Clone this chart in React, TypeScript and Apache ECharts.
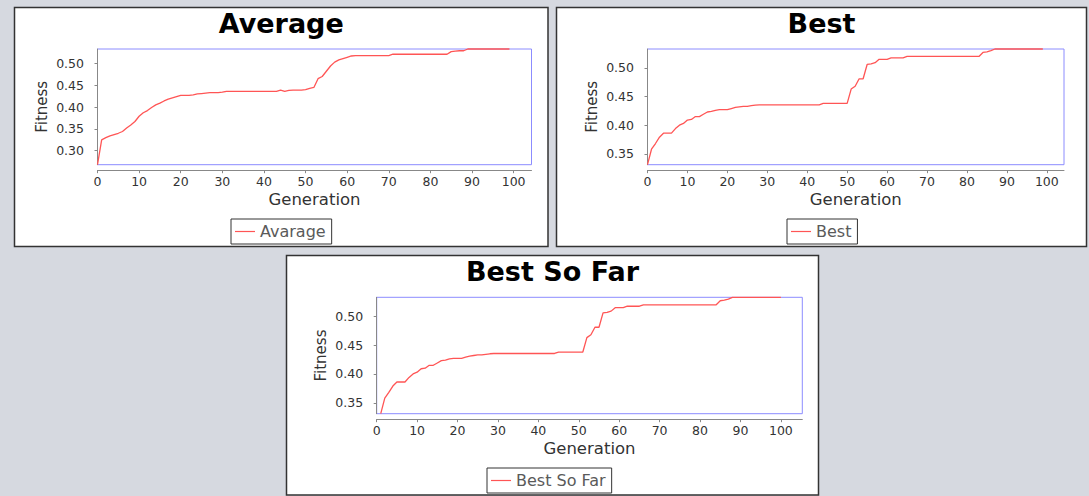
import { useEffect, useRef } from "react";
import * as echarts from "echarts";

// Average fitness, generations 0..99
const averageFitness = [
  0.268, 0.325, 0.330, 0.334, 0.337, 0.340, 0.344, 0.352, 0.359, 0.367,
  0.379, 0.387, 0.392, 0.399, 0.405, 0.409, 0.414, 0.418, 0.421, 0.424,
  0.427, 0.427, 0.427, 0.428, 0.430, 0.431, 0.432, 0.433, 0.433, 0.433,
  0.434, 0.436, 0.436, 0.436, 0.436, 0.436, 0.436, 0.436, 0.436, 0.436,
  0.436, 0.436, 0.436, 0.436, 0.439, 0.436, 0.438, 0.439, 0.439, 0.439,
  0.440, 0.443, 0.445, 0.465, 0.470, 0.482, 0.494, 0.503, 0.508, 0.511,
  0.514, 0.517, 0.518, 0.518, 0.518, 0.518, 0.518, 0.518, 0.518, 0.518,
  0.518, 0.521, 0.521, 0.521, 0.521, 0.521, 0.521, 0.521, 0.521, 0.521,
  0.521, 0.521, 0.521, 0.521, 0.521, 0.527, 0.528, 0.529, 0.529, 0.533,
  0.533, 0.533, 0.533, 0.533, 0.533, 0.533, 0.533, 0.533, 0.533, 0.533,
];

// Best fitness of each generation, generations 0..99
const bestFitness = [
  0.331, 0.358, 0.368, 0.379, 0.386, 0.386, 0.386, 0.394, 0.400, 0.403,
  0.409, 0.410, 0.415, 0.415, 0.419, 0.423, 0.424, 0.426, 0.427, 0.427,
  0.427, 0.429, 0.431, 0.432, 0.433, 0.433, 0.434, 0.435, 0.4355, 0.4355,
  0.4355, 0.4355, 0.4355, 0.4355, 0.4355, 0.4355, 0.4355, 0.4355, 0.4355, 0.4355,
  0.4355, 0.4355, 0.4355, 0.4355, 0.438, 0.438, 0.438, 0.438, 0.438, 0.438,
  0.438, 0.463, 0.468, 0.481, 0.481, 0.506, 0.507, 0.509, 0.515, 0.515,
  0.515, 0.5175, 0.5175, 0.5175, 0.5175, 0.520, 0.520, 0.520, 0.520, 0.520,
  0.520, 0.520, 0.520, 0.520, 0.520, 0.520, 0.520, 0.520, 0.520, 0.520,
  0.520, 0.520, 0.520, 0.520, 0.527, 0.528, 0.530, 0.533, 0.533, 0.533,
  0.533, 0.533, 0.533, 0.533, 0.533, 0.533, 0.533, 0.533, 0.533, 0.533,
];

// Best so far, generations 1..100
const bestSoFarFitness = [
  0.331, 0.358, 0.368, 0.379, 0.386, 0.386, 0.386, 0.394, 0.400, 0.403,
  0.409, 0.410, 0.415, 0.415, 0.419, 0.423, 0.424, 0.426, 0.427, 0.427,
  0.427, 0.429, 0.431, 0.432, 0.433, 0.433, 0.434, 0.435, 0.4355, 0.4355,
  0.4355, 0.4355, 0.4355, 0.4355, 0.4355, 0.4355, 0.4355, 0.4355, 0.4355, 0.4355,
  0.4355, 0.4355, 0.4355, 0.4355, 0.438, 0.438, 0.438, 0.438, 0.438, 0.438,
  0.438, 0.463, 0.468, 0.481, 0.481, 0.506, 0.507, 0.509, 0.515, 0.515,
  0.515, 0.5175, 0.5175, 0.5175, 0.5175, 0.520, 0.520, 0.520, 0.520, 0.520,
  0.520, 0.520, 0.520, 0.520, 0.520, 0.520, 0.520, 0.520, 0.520, 0.520,
  0.520, 0.520, 0.520, 0.520, 0.527, 0.528, 0.530, 0.533, 0.533, 0.533,
  0.533, 0.533, 0.533, 0.533, 0.533, 0.533, 0.533, 0.533, 0.533, 0.533,
];

const xTicks = [0, 10, 20, 30, 40, 50, 60, 70, 80, 90, 100];
const yTicksAverage = [0.3, 0.35, 0.4, 0.45, 0.5];
const yTicksBest = [0.35, 0.4, 0.45, 0.5];

const titles = ["Average", "Best", "Best So Far"];
const seriesNames = ["Avarage", "Best", "Best So Far"];

const FONT = "'DejaVu Sans', 'Noto Sans', sans-serif";
const LINE_COLOR = "#ff5555";

export default function App() {
  const ref = useRef<HTMLDivElement>(null);

  useEffect(() => {
    if (!ref.current) return;
    const chart = echarts.init(ref.current, undefined, { renderer: "svg" });

    const panels = [
      {
        box: { x: 14.5, y: 7.5, width: 533.5, height: 239 },
        grid: { left: 97.5, top: 49, width: 434, height: 115.7 },
        xMax: 104.3,
        yMin: 0.268,
        yMax: 0.533,
        yTicks: yTicksAverage,
        data: averageFitness.map((v, i) => [i, v]),
        legendLeft: 231,
        legendTop: 219,
      },
      {
        box: { x: 556.5, y: 7.5, width: 530, height: 239 },
        grid: { left: 647.5, top: 49, width: 416.5, height: 115.7 },
        xMax: 104.3,
        yMin: 0.331,
        yMax: 0.533,
        yTicks: yTicksBest,
        data: bestFitness.map((v, i) => [i, v]),
        legendLeft: 787,
        legendTop: 219,
      },
      {
        box: { x: 286.5, y: 255.5, width: 532, height: 239.5 },
        grid: { left: 376.7, top: 297.3, width: 425.6, height: 116.4 },
        xMax: 105.3,
        yMin: 0.331,
        yMax: 0.533,
        yTicks: yTicksBest,
        data: bestSoFarFitness.map((v, i) => [i + 1, v]),
        legendLeft: 487,
        legendTop: 468,
      },
    ];

    const option: any = {
      animation: false,
      backgroundColor: "#d6d9e0",
      textStyle: { fontFamily: FONT },
      graphic: panels.map((p) => ({
        type: "rect",
        z: -10,
        shape: { ...p.box },
        style: { fill: "#ffffff", stroke: "#333333", lineWidth: 1.5 },
      })),
      title: panels.map((p, i) => ({
        text: titles[i],
        left: p.box.x + p.box.width / 2,
        top: p.box.y + 2,
        padding: 0,
        textAlign: "center",
        textStyle: {
          fontFamily: FONT,
          fontSize: 27,
          fontWeight: "bold",
          color: "#000",
        },
      })),
      legend: panels.map((p, i) => ({
        data: [seriesNames[i]],
        left: p.legendLeft,
        top: p.legendTop,
        orient: "horizontal",
        borderColor: "#333",
        borderWidth: 1,
        padding: [4, 6, 4, 4],
        icon: "rect",
        itemWidth: 20,
        itemHeight: 1.2,
        itemGap: 5,
        selectedMode: false,
        textStyle: { fontFamily: FONT, fontSize: 16, color: "#5a5a5a", lineHeight: 17 },
      })),
      grid: panels.map((p) => ({
        ...p.grid,
        show: true,
        backgroundColor: "#ffffff",
        borderColor: "#8c8cff",
        borderWidth: 1,
      })),
      xAxis: panels.map((p, i) => ({
        type: "value",
        gridIndex: i,
        min: 0,
        max: p.xMax,
        offset: 5.5,
        name: "Generation",
        nameLocation: "middle",
        nameGap: 21,
        nameTextStyle: { fontFamily: FONT, fontSize: 16.5, color: "#333" },
        axisLine: { show: true, onZero: false, lineStyle: { color: "#888", width: 1 } },
        axisTick: { show: true, length: 3, lineStyle: { color: "#888" }, customValues: xTicks },
        axisLabel: {
          customValues: xTicks,
          margin: 5,
          fontFamily: FONT,
          fontSize: 12.5,
          color: "#333",
        },
        splitLine: { show: false },
      })),
      yAxis: panels.map((p, i) => ({
        type: "value",
        gridIndex: i,
        min: p.yMin,
        max: p.yMax,
        offset: 4.5,
        name: "Fitness",
        nameLocation: "middle",
        nameGap: 44,
        nameTextStyle: { fontFamily: FONT, fontSize: 15, color: "#333" },
        axisLine: { show: true, lineStyle: { color: "#888", width: 1 } },
        axisTick: { show: true, length: 3, lineStyle: { color: "#888" }, customValues: p.yTicks },
        axisLabel: {
          customValues: p.yTicks,
          margin: 9,
          fontFamily: FONT,
          fontSize: 12.5,
          color: "#333",
          formatter: (v: number) => v.toFixed(2),
        },
        splitLine: { show: false },
      })),
      series: panels.map((p, i) => ({
        name: seriesNames[i],
        type: "line",
        xAxisIndex: i,
        yAxisIndex: i,
        data: p.data,
        symbol: "none",
        showSymbol: false,
        lineStyle: { color: LINE_COLOR, width: 1.3 },
        itemStyle: { color: LINE_COLOR },
        clip: false,
      })),
    };

    chart.setOption(option);
    return () => chart.dispose();
  }, []);

  return (
    <div
      ref={ref}
      style={{ position: "fixed", left: 0, top: 0, width: 1089, height: 496 }}
    />
  );
}
